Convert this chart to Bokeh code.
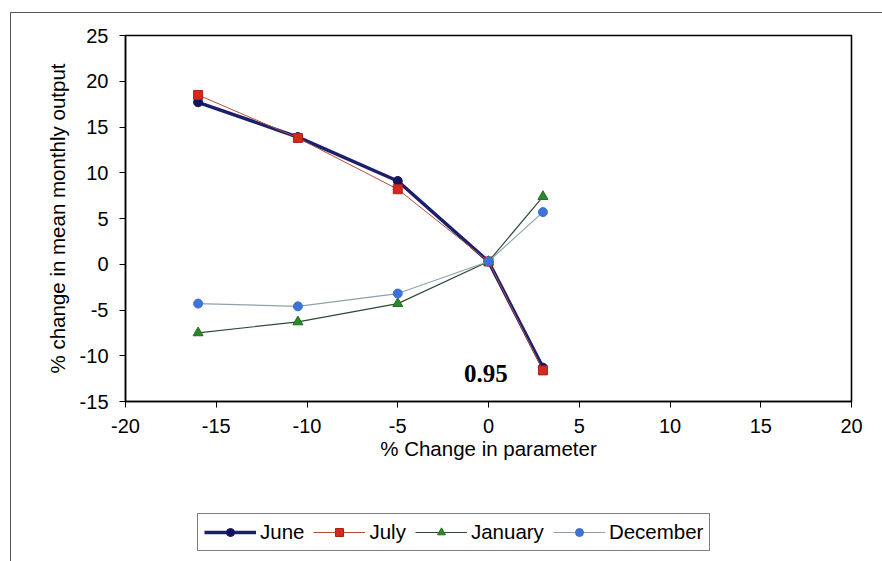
from bokeh.plotting import figure
from bokeh.layouts import column
from bokeh.models import (Range1d, Legend, LegendItem, FixedTicker, Label,
                          CustomJSTickFormatter)
from bokeh.embed import file_html
from bokeh.resources import INLINE

# % change in parameter (x) and % change in mean monthly output (y)
param_change = [-16, -10.5, -5, 0, 3]
june = [17.7, 13.9, 9.1, 0.3, -11.3]
july = [18.5, 13.8, 8.2, 0.3, -11.6]
january = [-7.5, -6.3, -4.3, 0.3, 7.4]
december = [-4.3, -4.6, -3.2, 0.3, 5.7]

x_ticks = [-20, -15, -10, -5, 0, 5, 10, 15, 20]
y_ticks = [-15, -10, -5, 0, 5, 10, 15, 20, 25]
note_text = "0.95"

FONT = "Liberation Sans"

# series styles: (label, line colour, line width, marker, size, fill, edge)
styles = [
    ("June", "#1c1f6b", 3.5, "circle", 9, "#14145a", "#14145a"),
    ("July", "#b0503c", 1.0, "square", 9, "#d42a1e", "#b02018"),
    ("January", "#2f4a33", 1.2, "triangle", 10, "#2a8a2a", "#1f6e1f"),
    ("December", "#8fa2ab", 1.2, "circle", 9, "#3d72d6", "#3d72d6"),
]
series = [june, july, january, december]

p = figure(width=871, height=470,
           x_range=Range1d(-20, 20), y_range=Range1d(-15, 25),
           output_backend="svg", toolbar_location=None,
           min_border_left=114, min_border_right=31,
           min_border_top=22, min_border_bottom=82)

p.xgrid.visible = False
p.ygrid.visible = False
p.outline_line_color = "black"
p.outline_line_width = 1.6
p.background_fill_color = "white"
p.border_fill_color = "white"

for ax, ticks in ((p.xaxis, x_ticks), (p.yaxis, y_ticks)):
    ax.ticker = FixedTicker(ticks=ticks)
    # plain hyphen-minus for negative tick values
    ax.formatter = CustomJSTickFormatter(code="return String(tick)")
    ax.minor_tick_line_color = None
    ax.major_tick_in = 0
    ax.major_tick_out = 6
    ax.major_tick_line_color = "black"
    ax.axis_line_color = "black"
    ax.axis_line_width = 1.4
    ax.major_label_text_font = FONT
    ax.major_label_text_font_size = "20px"
    ax.major_label_text_color = "black"
    ax.axis_label_text_font = FONT
    ax.axis_label_text_font_size = "20.5px"
    ax.axis_label_text_font_style = "normal"
    ax.axis_label_text_color = "black"

p.xaxis.axis_label = "% Change in parameter"
p.yaxis.axis_label = "% change in mean monthly output"
p.xaxis.major_label_standoff = 11
p.yaxis.major_label_standoff = 11
p.xaxis.axis_label_standoff = 1
p.yaxis.axis_label_standoff = 8

for (name, lc, lw, mk, sz, fc, ec), ys in zip(styles, series):
    p.line(param_change, ys, line_color=lc, line_width=lw)
    p.scatter(param_change, ys, marker=mk, size=sz,
              fill_color=fc, line_color=ec)

p.add_layout(Label(x=-0.15, y=-11.9, text=note_text,
                   text_font="Liberation Serif", text_font_style="bold",
                   text_font_size="25px", text_color="black",
                   text_align="center", text_baseline="middle"))

# strip under the chart that carries the legend; its ranges keep the
# series themselves out of view so only the legend swatches show
q = figure(width=871, height=78,
           x_range=Range1d(100, 101), y_range=Range1d(100, 101),
           output_backend="svg", toolbar_location=None,
           min_border=0, min_border_left=0, min_border_right=0,
           min_border_top=0, min_border_bottom=0)
q.axis.visible = False
q.xgrid.visible = False
q.ygrid.visible = False
q.outline_line_color = None
q.background_fill_color = "white"
q.border_fill_color = "white"

items = []
for (name, lc, lw, mk, sz, fc, ec), ys in zip(styles, series):
    r_line = q.line(param_change, ys, line_color=lc, line_width=lw)
    r_mark = q.scatter(param_change, ys, marker=mk, size=sz,
                       fill_color=fc, line_color=ec)
    items.append(LegendItem(label=name, renderers=[r_line, r_mark]))

legend = Legend(items=items, orientation="horizontal", location=(72, 10),
                border_line_color="black", border_line_width=1,
                label_text_font=FONT, label_text_font_size="20.5px",
                label_text_color="black",
                glyph_width=52, glyph_height=20, label_standoff=4,
                spacing=9, padding=6, margin=0,
                background_fill_color="white", background_fill_alpha=1)
q.add_layout(legend)

page = column(p, q, spacing=0)
page.margin = (12, 0, 0, 10)
page.styles = {"border-top": "1px solid #555", "border-left": "1px solid #555"}

open("out.html", "w").write(file_html(page, INLINE))
